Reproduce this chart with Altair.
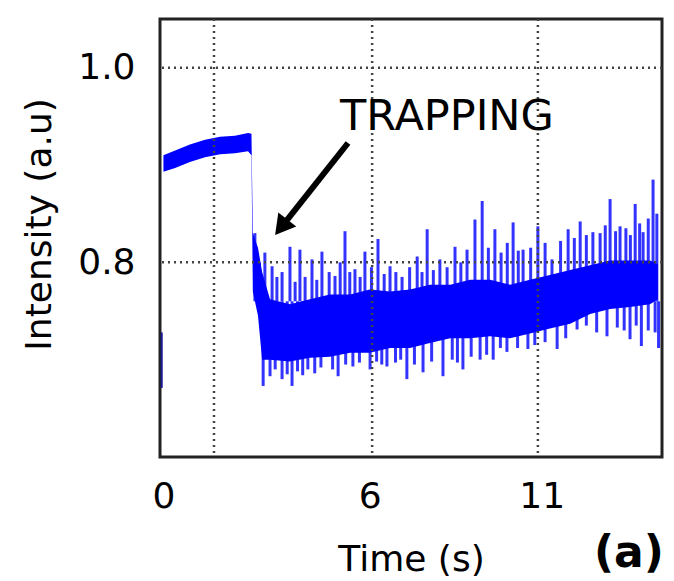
import altair as alt
import pandas as pd

# ---- data ----
band_t = [0.00, 0.34, 0.77, 1.21, 1.65, 2.08, 2.46, 2.56, 2.60, 2.75, 2.87,
          3.10, 3.68, 4.26, 4.84, 5.43, 6.00, 6.59, 7.17, 7.75, 8.34, 8.92,
          9.50, 10.08, 10.66, 11.24, 11.83, 12.41, 12.99, 13.57, 14.15, 14.38]
band_lo = [0.893, 0.897, 0.903, 0.908, 0.911, 0.912, 0.914, 0.910, 0.770, 0.745, 0.700,
           0.700, 0.698, 0.702, 0.703, 0.707, 0.707, 0.712, 0.712, 0.717, 0.722, 0.722,
           0.724, 0.722, 0.727, 0.732, 0.737, 0.747, 0.752, 0.754, 0.757, 0.762]
band_hi = [0.910, 0.915, 0.921, 0.926, 0.929, 0.930, 0.933, 0.932, 0.830, 0.815, 0.790,
           0.762, 0.757, 0.762, 0.767, 0.767, 0.772, 0.770, 0.772, 0.777, 0.777, 0.782,
           0.782, 0.777, 0.782, 0.787, 0.792, 0.797, 0.802, 0.802, 0.802, 0.798]

up_t = [2.66, 2.79, 2.95, 3.16, 3.30, 3.45, 3.68, 3.83, 3.97, 4.12, 4.32, 4.46, 4.61,
        4.82, 4.99, 5.14, 5.28, 5.42, 5.57, 5.72, 5.86, 6.05, 6.24, 6.42, 6.59, 6.76,
        6.94, 7.16, 7.38, 7.52, 7.67, 7.85, 8.04, 8.25, 8.48, 8.65, 8.83, 9.06, 9.27,
        9.45, 9.64, 9.82, 10.00, 10.17, 10.32, 10.46, 10.68, 10.89, 11.10, 11.30, 11.55,
        11.77, 11.95, 12.12, 12.30, 12.49, 12.70, 12.85, 12.99, 13.15, 13.28, 13.45,
        13.58, 13.72, 13.85, 13.95, 14.10, 14.24, 14.35]
up_v = [0.830, 0.800, 0.810, 0.796, 0.785, 0.790, 0.816, 0.780, 0.813, 0.785, 0.803, 0.782, 0.811,
        0.790, 0.786, 0.800, 0.832, 0.790, 0.793, 0.785, 0.811, 0.795, 0.824, 0.788, 0.796, 0.790,
        0.785, 0.795, 0.806, 0.790, 0.834, 0.792, 0.803, 0.795, 0.816, 0.800, 0.813, 0.844, 0.863,
        0.815, 0.834, 0.810, 0.820, 0.841, 0.812, 0.813, 0.815, 0.837, 0.820, 0.803, 0.822,
        0.834, 0.825, 0.842, 0.828, 0.831, 0.830, 0.838, 0.865, 0.832, 0.837, 0.835,
        0.828, 0.860, 0.840, 0.831, 0.845, 0.885, 0.850]

down_t = [2.90, 3.10, 3.25, 3.45, 3.60, 3.74, 3.90, 4.05, 4.20, 4.40, 4.58, 4.76, 4.92,
          5.08, 5.30, 5.51, 5.70, 6.01, 6.20, 6.35, 6.50, 6.75, 6.90, 7.08, 7.30, 7.55,
          7.80, 8.13, 8.40, 8.55, 8.71, 8.95, 9.21, 9.40, 9.59, 9.80, 9.99, 10.30, 10.60,
          10.80, 11.10, 11.45, 11.70, 12.03, 12.30, 12.60, 12.90, 13.20, 13.40, 13.57,
          13.75, 13.90, 14.10, 14.30, 14.40]
down_v = [0.673, 0.683, 0.690, 0.680, 0.685, 0.673, 0.688, 0.684, 0.690, 0.686, 0.692, 0.704, 0.690,
          0.683, 0.695, 0.693, 0.697, 0.690, 0.698, 0.695, 0.693, 0.697, 0.700, 0.680, 0.695, 0.687,
          0.698, 0.683, 0.700, 0.697, 0.690, 0.703, 0.700, 0.705, 0.700, 0.712, 0.708, 0.712, 0.711,
          0.715, 0.718, 0.711, 0.722, 0.731, 0.735, 0.728, 0.724, 0.733, 0.730, 0.721,
          0.735, 0.714, 0.730, 0.728, 0.712]

start_t = [-0.05]
start_lo = [0.671]
start_hi = [0.728]

x_ticks = [0, 6, 11]
y_ticks = [0.8, 1.0]
grid_x = [1.47, 6.07, 10.89]
grid_y = [0.8, 1.0]

label_text = ["TRAPPING"]
label_t = [5.135]
label_v = [0.936]
arrow_t, arrow_v = [5.368], [0.9226]
arrow_t2, arrow_v2 = [3.425], [0.836]
panel_text = ["(a)"]
panel_t = [14.555]
panel_v = [0.487]

FONT = "DejaVu Sans"
BLUE = "#0000ff"

xscale = alt.Scale(domain=[-0.1, 14.5], nice=False, zero=False)
yscale = alt.Scale(domain=[0.6, 1.05], nice=False, zero=False)

x_axis = alt.Axis(values=x_ticks, format="d", labelFont=FONT, labelFontSize=36,
                  labelColor="black", labelPadding=22, labelFlush=False,
                  ticks=False, domain=False, grid=False,
                  title="Time (s)", titleFont=FONT, titleFontSize=36,
                  titleFontWeight="normal", titleColor="black",
                  titleBaseline="alphabetic", titleX=251, titleY=113)
y_axis = alt.Axis(values=y_ticks, format=".1f", labelFont=FONT, labelFontSize=36,
                  labelColor="black", labelPadding=25,
                  ticks=False, domain=False, grid=False,
                  title="Intensity (a.u)", titleFont=FONT, titleFontSize=36,
                  titleFontWeight="normal", titleColor="black",
                  titleBaseline="alphabetic", titleAngle=270, titleAlign="center",
                  titleX=-110, titleY=205)


def X(field):
    return alt.X(field, type="quantitative", scale=xscale, axis=x_axis)


def Y(field):
    return alt.Y(field, type="quantitative", scale=yscale, axis=y_axis)


band = pd.DataFrame({"t": band_t, "lo": band_lo, "hi": band_hi})
up = pd.DataFrame({"t": up_t, "v": up_v})
down = pd.DataFrame({"t": down_t, "v": down_v})
start = pd.DataFrame({"t": start_t, "lo": start_lo, "hi": start_hi})
gx = pd.DataFrame({"t": grid_x})
gy = pd.DataFrame({"v": grid_y})
lab = pd.DataFrame({"t": label_t, "v": label_v, "txt": label_text})
arr = pd.DataFrame({"t": arrow_t, "v": arrow_v, "t2": arrow_t2, "v2": arrow_v2})
head = pd.DataFrame({"t": arrow_t2, "v": arrow_v2})
pan = pd.DataFrame({"t": panel_t, "v": panel_v, "txt": panel_text})

area = alt.Chart(band).mark_area(color=BLUE, interpolate="linear").encode(
    x=X("t"), y=Y("lo"), y2="hi:Q",
)
up_rules = alt.Chart(up).mark_rule(color=BLUE, strokeWidth=3, opacity=0.8).encode(
    x=X("t"), y=Y("v"), y2=alt.datum(0.76),
)
down_rules = alt.Chart(down).mark_rule(color=BLUE, strokeWidth=3, opacity=0.8).encode(
    x=X("t"), y=Y("v"), y2=alt.datum(0.76),
)
start_rule = alt.Chart(start).mark_rule(color="#1a1a90", strokeWidth=2).encode(
    x=X("t"), y=Y("lo"), y2="hi:Q",
)
grid_v = alt.Chart(gx).mark_rule(color="#444444", strokeWidth=2.5, strokeDash=[2, 4]).encode(
    x=X("t"),
)
grid_h = alt.Chart(gy).mark_rule(color="#444444", strokeWidth=2.5, strokeDash=[2, 4]).encode(
    y=Y("v"),
)
arrow_line = alt.Chart(arr).mark_rule(color="black", strokeWidth=6).encode(
    x=X("t"), y=Y("v"), x2="t2:Q", y2="v2:Q",
)
arrow_head = alt.Chart(head).mark_point(shape="triangle-up", filled=True, size=520,
                                        angle=218, color="black", opacity=1).encode(
    x=X("t"), y=Y("v"),
)
label = alt.Chart(lab).mark_text(font=FONT, fontSize=43, align="left",
                                 baseline="alphabetic", color="black").encode(
    x=X("t"), y=Y("v"), text="txt:N",
)
panel = alt.Chart(pan).mark_text(font=FONT, fontSize=44, fontWeight="bold", align="right",
                                 baseline="alphabetic", color="black").encode(
    x=X("t"), y=Y("v"), text="txt:N",
)

chart = alt.layer(
    area, up_rules, down_rules, start_rule, grid_v, grid_h,
    arrow_line, arrow_head, label, panel,
).properties(
    width=502, height=438,
    autosize=alt.AutoSizeParams(type="none"),
    padding={"left": 152, "top": 11, "right": 4, "bottom": 122},
    background="white",
).configure_view(stroke="#222222", strokeWidth=3)

chart.save("out.html", embed_options={"renderer": "svg", "actions": False})
